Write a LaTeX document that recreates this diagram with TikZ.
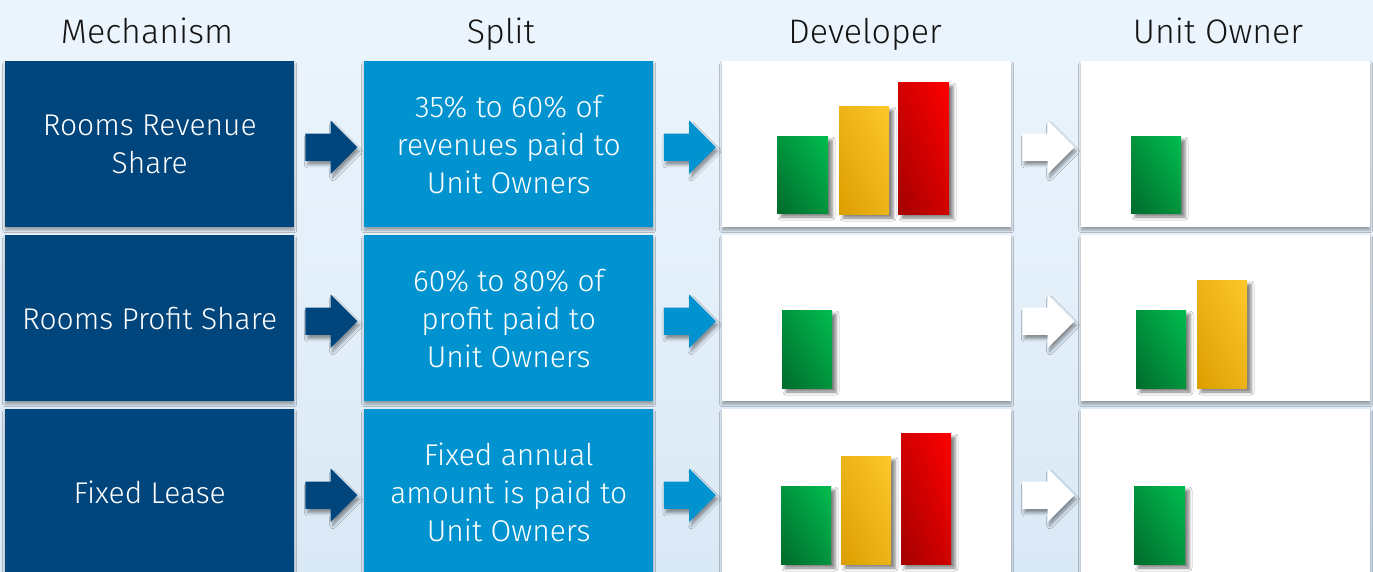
\documentclass[tikz,border=0pt]{standalone}
\usepackage{fontspec}
\setmainfont{Fira Sans Light}
\usetikzlibrary{positioning,calc,shapes.arrows,shadows.blur,shadings}
\definecolor{mechblue}{HTML}{00457C}
\definecolor{splitblue}{HTML}{0093D0}
\definecolor{bgtop}{HTML}{ECF5FD}
\definecolor{bgbot}{HTML}{DAE9F6}
\definecolor{grndark}{HTML}{006B2C}
\definecolor{grnmid}{HTML}{00943D}
\definecolor{grnlight}{HTML}{00BD50}
\definecolor{yeldark}{HTML}{DC9E00}
\definecolor{yelmid}{HTML}{EDB318}
\definecolor{yellight}{HTML}{FDC72C}
\definecolor{reddark}{HTML}{A30000}
\definecolor{redmid}{HTML}{D20000}
\definecolor{redlight}{HTML}{FF0000}
\tikzset{
  cell/.style={minimum width=289pt, minimum height=166pt, anchor=north west,
    inner sep=0pt, align=center, text=white, font=\fontsize{30}{38}\selectfont,
    blur shadow={shadow xshift=0pt, shadow yshift=-3pt, shadow blur radius=2.5pt, shadow opacity=35}},
  mechbox/.style={cell, fill=mechblue},
  splitbox/.style={cell, fill=splitblue},
  chartbox/.style={cell, fill=white},
  colhead/.style={anchor=base, font=\fontsize{34}{40}\selectfont, text=black!92},
  blockarrow/.style={single arrow, single arrow head extend=13pt, minimum height=52pt,
    inner xsep=0pt, inner ysep=13.5pt, anchor=tail,
    blur shadow={shadow xshift=2pt, shadow yshift=-4pt, shadow blur radius=3pt, shadow opacity=40}},
  barshadow/.style={blur shadow={shadow xshift=4pt, shadow yshift=-4pt, shadow blur radius=3pt, shadow opacity=50}},
  greenbar/.style={barshadow, lower left=grndark, upper right=grnlight, upper left=grnmid, lower right=grnmid},
  yellowbar/.style={barshadow, lower left=yeldark, upper right=yellight, upper left=yelmid, lower right=yelmid},
  redbar/.style={barshadow, lower left=reddark, upper right=redlight, upper left=redmid, lower right=redmid},
}
\begin{document}
\begin{tikzpicture}[x=1pt,y=-1pt]
  \useasboundingbox (0,0) rectangle (1373,571);
  \shade[top color=bgtop, bottom color=bgbot] (0,0) rectangle (1373,571);
  % column heads
  \node[colhead] (hmech) at (147,43) {Mechanism};
  \node[colhead] (hsplit) at (501,43) {Split};
  \node[colhead] (hdev) at (865,43) {Developer};
  \node[colhead] (hown) at (1218,43) {Unit Owner};
  % mechanism column
  \node[mechbox] (m1) at (5,61) {Rooms Revenue\\Share};
  \node[mechbox] (m2) at (5,235) {Rooms Profit Share};
  \node[mechbox] (m3) at (5,409) {Fixed Lease};
  % split column
  \node[splitbox] (s1) at (364,61) {35\% to 60\% of\\revenues paid to\\Unit Owners};
  \node[splitbox] (s2) at (364,235) {60\% to 80\% of\\profit paid to\\Unit Owners};
  \node[splitbox] (s3) at (364,409) {Fixed annual\\amount is paid to\\Unit Owners};
  % developer and unit owner columns
  \foreach \r/\y in {1/61,2/235,3/409}{
    \node[chartbox] (d\r) at (722,\y) {};
    \node[chartbox] (u\r) at (1081,\y) {};
  }
  % block arrows
  \foreach \r in {1,2,3}{
    \node[blockarrow, fill=mechblue] (am\r) at ($(m\r.east)!0.5!(s\r.west)+(-24,3)$) {};
    \node[blockarrow, fill=splitblue] (as\r) at ($(s\r.east)!0.5!(d\r.west)+(-24,3)$) {};
    \node[blockarrow, fill=white] (ad\r) at ($(d\r.east)!0.5!(u\r.west)+(-24,3)$) {};
  }
  % bars
  \foreach \xa/\ya/\xb/\yb in {777/136/828/213, 1131/136/1181/213, 782/310/832/388,
      1136/310/1186/388, 781/486/831/564, 1134/486/1185/564}
    \shade[greenbar] (\xa,\ya) rectangle (\xb,\yb);
  \foreach \xa/\ya/\xb/\yb in {839/106/889/214, 1197/280/1247/388, 841/456/891/564}
    \shade[yellowbar] (\xa,\ya) rectangle (\xb,\yb);
  \foreach \xa/\ya/\xb/\yb in {898/82/949/214, 901/433/951/564}
    \shade[redbar] (\xa,\ya) rectangle (\xb,\yb);
\end{tikzpicture}
\end{document}
